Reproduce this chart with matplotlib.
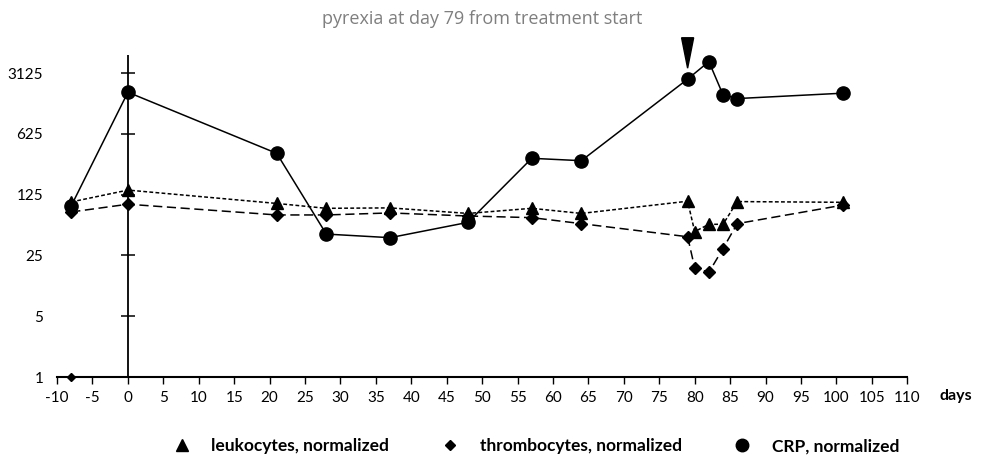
import numpy as np
import matplotlib
matplotlib.use("Agg")
import matplotlib.pyplot as plt
from matplotlib.lines import Line2D

plt.rcParams['font.family'] = ['Lato', 'DejaVu Sans']

# data (y values on a base-5 log scale)
days_crp = [-8, 0, 21, 28, 37, 48, 57, 64, 79, 82, 84, 86, 101]
crp = [93, 1880, 373, 44, 40, 60, 327, 307, 2660, 4230, 1755, 1590, 1835]

days_leu = [-8, 0, 21, 28, 37, 48, 57, 64, 79, 80, 82, 84, 86, 101]
leuko = [103, 141, 99, 87, 88, 76, 87, 76, 105, 47, 57, 57, 104, 102]

days_thr = [-8, 0, 21, 28, 37, 48, 57, 64, 79, 80, 82, 84, 86, 101]
thrombo = [79, 97, 73, 73, 77, 71, 68, 58, 41, 18, 16, 30, 58, 95]
thr_extra_day = [-8]
thr_extra_val = [1]

y_ticks = [1, 5, 25, 125, 625, 3125]
x_ticks = list(range(-10, 111, 5))
pyrexia_day = 79

fig = plt.figure(figsize=(9.84, 4.57), dpi=100)
ax = fig.add_axes([0.058, 0.175, 0.864, 0.745])
ax.set_yscale('log', base=5)
ax.set_xlim(-10, 110)
ax.set_ylim(1, 5 ** 5.6)

ax.plot(days_thr, thrombo, color='black', lw=1.1, ls=(0, (6, 3)),
        marker='D', ms=6.5, zorder=3)
ax.plot(thr_extra_day, thr_extra_val, color='black', ls='none', marker='D',
        ms=4, clip_on=False, zorder=5)
ax.plot(days_leu, leuko, color='black', lw=1.1, ls=(0, (2.5, 1.5)),
        marker='^', ms=8.5, zorder=4)
ax.plot(days_crp, crp, color='black', lw=1.1, ls='-',
        marker='o', ms=9.5, zorder=5)

# vertical axis line at day 0 with cross ticks
ax.vlines(0, 1, 5 ** 5.3, color='black', lw=1.3, zorder=2)
ax.plot([0] * len(y_ticks[1:]), y_ticks[1:], ls='none', marker='_',
        ms=10, mew=1.1, color='black', zorder=2)

# pyrexia arrowhead
ax.fill([pyrexia_day - 0.85, pyrexia_day + 0.85, pyrexia_day],
        [5 ** 5.58, 5 ** 5.58, 5 ** 5.08], color='black', clip_on=False, zorder=6)

for s in ['top', 'right', 'left']:
    ax.spines[s].set_visible(False)
ax.spines['bottom'].set_linewidth(1.5)
ax.set_xticks(x_ticks)
ax.set_xticklabels([str(t) for t in x_ticks])
ax.set_yticks(y_ticks)
ax.set_yticklabels([str(t) for t in y_ticks])
ax.yaxis.set_minor_locator(matplotlib.ticker.NullLocator())
ax.tick_params(axis='x', direction='out', length=5, width=1, labelsize=11, pad=5)
ax.tick_params(axis='y', length=0, labelsize=11, pad=10)

ax.text(1.038, -0.055, 'days', transform=ax.transAxes, fontsize=11.5,
        fontweight='bold', ha='left', va='center')

fig.suptitle('pyrexia at day 79 from treatment start', x=0.49, y=0.978,
             fontsize=13, color='#7f7f7f', family=['Open Sans', 'DejaVu Sans'])

handles = [Line2D([], [], color='black', ls='none', marker='^', ms=8),
           Line2D([], [], color='black', ls='none', marker='D', ms=5),
           Line2D([], [], color='black', ls='none', marker='o', ms=9)]
labels = ['leukocytes, normalized', 'thrombocytes, normalized', 'CRP, normalized']
fig.legend(handles, labels, loc='lower center', ncol=3, frameon=False,
           bbox_to_anchor=(0.545, -0.028), columnspacing=3.0, handlelength=1.0,
           handletextpad=1.2, prop={'weight': 'bold', 'size': 12.5})

fig.savefig('out.png', dpi=100)
